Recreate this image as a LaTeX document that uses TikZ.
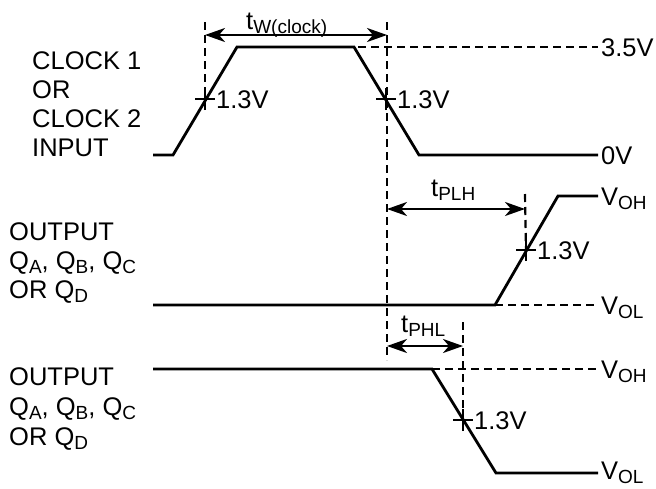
\documentclass[tikz,border=0pt]{standalone}
\usepackage{fontspec}
\setmainfont{Liberation Sans}
\usetikzlibrary{arrows.meta}
\newcommand\lowsub[1]{\raisebox{-4pt}{\fontsize{19}{19}\selectfont #1}}
\begin{document}
\begin{tikzpicture}[x=1pt,y=-1pt,
  wave/.style={line width=2.8pt,line join=miter},
  guide/.style={line width=2.2pt,dash pattern=on 8pt off 5pt},
  tipa/.tip={Stealth[length=20pt,width=14pt,inset=6pt]},
  dimarrow/.style={line width=2.4pt,tipa-tipa},
  tick/.style={line width=2.2pt},
  lbl/.style={anchor=base west,inner sep=0pt,font=\fontsize{25.5}{29}\selectfont},
  side/.style={anchor=base west,inner sep=0pt,font=\fontsize{25.5}{29}\selectfont}]
\useasboundingbox (0,0) rectangle (656,488);

% ---------- left labels ----------
\node[side] (c1) at (32,69) {CLOCK 1};
\node[side] (c2) at (32,98) {OR};
\node[side] (c3) at (32,127) {CLOCK 2};
\node[side] (c4) at (32,156) {INPUT};
\node[side] (o1a) at (9,240) {OUTPUT};
\node[side] (o1b) at (9,269) {Q\lowsub{A}, Q\lowsub{B}, Q\lowsub{C}};
\node[side] (o1c) at (9,298) {OR Q\lowsub{D}};
\node[side] (o2a) at (9,385) {OUTPUT};
\node[side] (o2b) at (9,415) {Q\lowsub{A}, Q\lowsub{B}, Q\lowsub{C}};
\node[side] (o2c) at (9,445) {OR Q\lowsub{D}};

% ---------- clock waveform ----------
\coordinate (k0) at (153,155);
\coordinate (k1) at (173,155);
\coordinate (k2) at (237,47);
\coordinate (k3) at (354,47);
\coordinate (k4) at (419,155);
\coordinate (k5) at (598,155);
\coordinate (k6) at (598,47);
\coordinate (k3d) at (358,47);
\draw[wave] (k0) -- (k1) -- (k2) -- (k3) -- (k4) -- (k5);
\draw[guide] (k3d) -- (k6);
\node[lbl] (v35) at (601,56) {3.5V};
\node[lbl] (v0) at (601,164) {0V};

\coordinate (x1) at (205,99);
\coordinate (x2) at (386,99);
\coordinate (x1t) at (205,22);
\coordinate (x2t) at (387,22);
\coordinate (x2b) at (387,360);
\draw[guide] (x1t) -- (x1);
\draw[guide] (x2t) -- (x2b);
\draw[tick] ([xshift=-10pt]x1) -- ([xshift=10pt]x1) ([yshift=-11pt]x1) -- ([yshift=11pt]x1);
\draw[tick] ([xshift=-10pt]x2) -- ([xshift=10pt]x2) ([yshift=-11pt]x2) -- ([yshift=11pt]x2);
\node[lbl] (l1) at (216,108) {1.3V};
\node[lbl] (l2) at (397,108) {1.3V};

\coordinate (tw1) at (205,35);
\coordinate (tw2) at (387,35);
\draw[dimarrow] (tw1) -- (tw2);
\node[lbl] (tw) at (246,29) {t\lowsub{W(clock)}};

% ---------- output 1 (rising) ----------
\coordinate (a0) at (153,305);
\coordinate (a1) at (495,305);
\coordinate (a2) at (558,196);
\coordinate (a3) at (598,196);
\coordinate (a4) at (598,305);
\draw[wave] (a0) -- (a1) -- (a2) -- (a3);
\draw[guide] (a1) -- (a4);
\node[lbl] (voh1) at (601,205) {V\lowsub{OH}};
\node[lbl] (vol1) at (601,314) {V\lowsub{OL}};
\coordinate (x3) at (526,250);
\coordinate (x3t) at (525,194);
\draw[guide] (x3t) -- (x3);
\draw[tick] ([xshift=-10pt]x3) -- ([xshift=10pt]x3) ([yshift=-11pt]x3) -- ([yshift=11pt]x3);
\node[lbl] (l3) at (537,259) {1.3V};
\coordinate (p1) at (387,209);
\coordinate (p2) at (525,209);
\draw[dimarrow] (p1) -- (p2);
\node[lbl] (tplh) at (431,196) {t\lowsub{PLH}};

% ---------- output 2 (falling) ----------
\coordinate (b0) at (153,369);
\coordinate (b1) at (432,369);
\coordinate (b2) at (496,473);
\coordinate (b3) at (598,473);
\coordinate (b4) at (598,369);
\draw[wave] (b0) -- (b1) -- (b2) -- (b3);
\draw[guide] (b1) -- (b4);
\node[lbl] (voh2) at (601,378) {V\lowsub{OH}};
\node[lbl] (vol2) at (601,479) {V\lowsub{OL}};
\coordinate (x4) at (463,420);
\coordinate (x4t) at (463,322);
\draw[guide] (x4t) -- (x4);
\draw[tick] ([xshift=-10pt]x4) -- ([xshift=10pt]x4) ([yshift=-11pt]x4) -- ([yshift=11pt]x4);
\node[lbl] (l4) at (474,429) {1.3V};
\coordinate (q1) at (387,346);
\coordinate (q2) at (463,346);
\draw[dimarrow] (q1) -- (q2);
\node[lbl] (tphl) at (401,332) {t\lowsub{PHL}};
\end{tikzpicture}
\end{document}
